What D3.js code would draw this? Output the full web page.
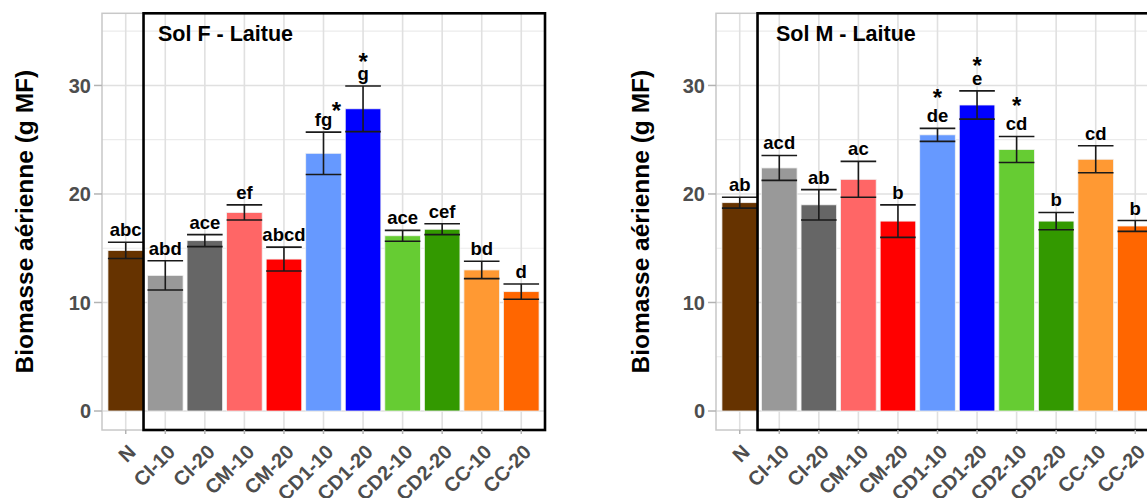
<!DOCTYPE html>
<html><head><meta charset="utf-8">
<script src="https://cdn.jsdelivr.net/npm/d3@7"></script>
<style>body{margin:0;background:#fff;} svg{display:block;font-family:"Liberation Sans",Arial,sans-serif;}</style>
</head><body>
<svg id="chart" width="1147" height="498"></svg>
<script>
const categories = ["N","CI-10","CI-20","CM-10","CM-20","CD1-10","CD1-20","CD2-10","CD2-20","CC-10","CC-20"];
const colors = ["#663300","#999999","#666666","#ff6666","#ff0000","#6699ff","#0000ff","#66cc33","#339900","#ff9933","#ff6600"];
const yTicks = [0,10,20,30];
const yMinor = [5,15,25,35];

const titleF = "Sol F - Laitue";
const meanF = [14.8,12.5,15.7,18.3,14.0,23.75,27.85,16.15,16.75,13.0,11.0];
const seF   = [0.75,1.35,0.55,0.7,1.1,1.95,2.1,0.5,0.5,0.8,0.7];
const lettersF = ["abc","abd","ace","ef","abcd","fg","g","ace","cef","bd","d"];
const starsF = ["","","","","","side","top","","","",""];

const titleM = "Sol M - Laitue";
const meanM = [19.2,22.4,19.0,21.35,17.5,25.45,28.2,24.1,17.5,23.2,17.05];
const seM   = [0.5,1.15,1.4,1.65,1.5,0.6,1.3,1.2,0.8,1.25,0.5];
const lettersM = ["ab","acd","ab","ac","b","de","e","cd","b","cd","b"];
const starsM = ["","","","","","top","top","top","","",""];

const yTitle = "Biomasse aérienne (g MF)";

(function(){
const svg = d3.select("#chart");
const pTop = 13.3, pBottom = 430;
const y = d3.scaleLinear().domain([-1.75, 36.65]).range([pBottom, pTop]);

function panel(left, width, title, titleX, yTitleX, mean, se, letters, stars){
  const g = svg.append("g");
  const right = left + width;
  const x = d3.scalePoint().domain(categories).range([left, right]).padding(0.6);
  const step = x.step();
  const bw = step * 0.9;
  g.selectAll(".ymin").data(yMinor).join("line")
    .attr("x1", left).attr("x2", right).attr("y1", d=>y(d)).attr("y2", d=>y(d))
    .attr("stroke", "#ebebeb").attr("stroke-width", 1.2);
  g.selectAll(".ymaj").data(yTicks).join("line")
    .attr("x1", left).attr("x2", right).attr("y1", d=>y(d)).attr("y2", d=>y(d))
    .attr("stroke", "#e0e0e0").attr("stroke-width", 1.6);
  g.selectAll(".xg").data(categories).join("line")
    .attr("x1", d=>x(d)).attr("x2", d=>x(d)).attr("y1", pTop).attr("y2", pBottom)
    .attr("stroke", "#e0e0e0").attr("stroke-width", 1.6);
  g.selectAll(".bar").data(categories).join("rect")
    .attr("x", d=>x(d)-bw/2).attr("width", bw)
    .attr("y", (d,i)=>y(mean[i])).attr("height", (d,i)=>y(0)-y(mean[i]))
    .attr("fill", (d,i)=>colors[i]).attr("stroke", "#f2f2f2").attr("stroke-width", 0.8);
  const eb = g.selectAll(".eb").data(categories).join("g").attr("stroke", "#1a1a1a").attr("stroke-width", 1.6);
  eb.append("line").attr("x1", d=>x(d)).attr("x2", d=>x(d))
    .attr("y1", (d,i)=>y(mean[i]+se[i])).attr("y2", (d,i)=>y(mean[i]-se[i]));
  eb.append("line").attr("x1", d=>x(d)-bw/2).attr("x2", d=>x(d)+bw/2)
    .attr("y1", (d,i)=>y(mean[i]+se[i])).attr("y2", (d,i)=>y(mean[i]+se[i]));
  eb.append("line").attr("x1", d=>x(d)-bw/2).attr("x2", d=>x(d)+bw/2)
    .attr("y1", (d,i)=>y(mean[i]-se[i])).attr("y2", (d,i)=>y(mean[i]-se[i]));
  const gap = 6;
  g.selectAll(".lt").data(categories).join("text")
    .attr("x", d=>x(d)).attr("y", (d,i)=>y(mean[i]+se[i]) - gap)
    .attr("text-anchor", "middle").attr("font-size", 18.5).attr("font-weight", "bold").attr("fill", "#000")
    .text((d,i)=>letters[i]);
  categories.forEach((d,i)=>{
    if(!stars[i]) return;
    const base = y(mean[i]+se[i]) - gap;
    const asc = /[bdfhklt]/.test(letters[i]);
    let sx = x(d), sy;
    if(stars[i] === "side"){ sx = x(d) + 13; sy = base - 21 + 13.5; }
    else { sy = base - (asc ? 30 : 24) + 13.5; }
    g.append("text").attr("x", sx).attr("y", sy).attr("text-anchor", "middle")
      .attr("font-size", 24).attr("font-weight", "bold").text("*");
  });
  g.append("rect").attr("x", left).attr("y", pTop).attr("width", width).attr("height", pBottom-pTop)
    .attr("fill", "none").attr("stroke", "#c8c8c8").attr("stroke-width", 1.5);
  const xr0 = x(categories[0]) + step*0.45;
  g.append("rect").attr("x", xr0).attr("y", pTop).attr("width", right - xr0).attr("height", pBottom - pTop)
    .attr("fill", "none").attr("stroke", "#000").attr("stroke-width", 2.6);
  g.append("text").attr("x", titleX).attr("y", 40.5).attr("font-size", 21.5).attr("font-weight", "bold").text(title);
  g.selectAll(".yt").data(yTicks).join("line")
    .attr("x1", left-8).attr("x2", left).attr("y1", d=>y(d)).attr("y2", d=>y(d))
    .attr("stroke", "#b3b3b3").attr("stroke-width", 1.5);
  g.selectAll(".ytl").data(yTicks).join("text")
    .attr("x", left-11).attr("y", d=>y(d)).attr("dy", "0.36em").attr("text-anchor", "end")
    .attr("font-size", 20).attr("font-weight", "bold").attr("fill", "#4d4d4d").text(d=>d);
  g.selectAll(".xt").data(categories).join("line")
    .attr("x1", d=>x(d)).attr("x2", d=>x(d)).attr("y1", pBottom).attr("y2", pBottom+4)
    .attr("stroke", "#b3b3b3").attr("stroke-width", 1.5);
  g.selectAll(".xtl").data(categories).join("text")
    .attr("transform", d=>`translate(${x(d)+1},${pBottom+13}) rotate(-45)`)
    .attr("dy", "0.72em").attr("text-anchor", "end")
    .attr("font-size", 20).attr("font-weight", "bold").attr("fill", "#4d4d4d").text(d=>d);
  g.append("text").attr("transform", `translate(${yTitleX},${(pTop+pBottom)/2}) rotate(-90)`)
    .attr("text-anchor", "middle").attr("font-size", 24.5).attr("font-weight", "bold").text(yTitle);
}

panel(102, 443, titleF, 158, 33, meanF, seF, lettersF, starsF);
panel(716, 443, titleM, 776, 649, meanM, seM, lettersM, starsM);
})();
</script>
</body></html>
